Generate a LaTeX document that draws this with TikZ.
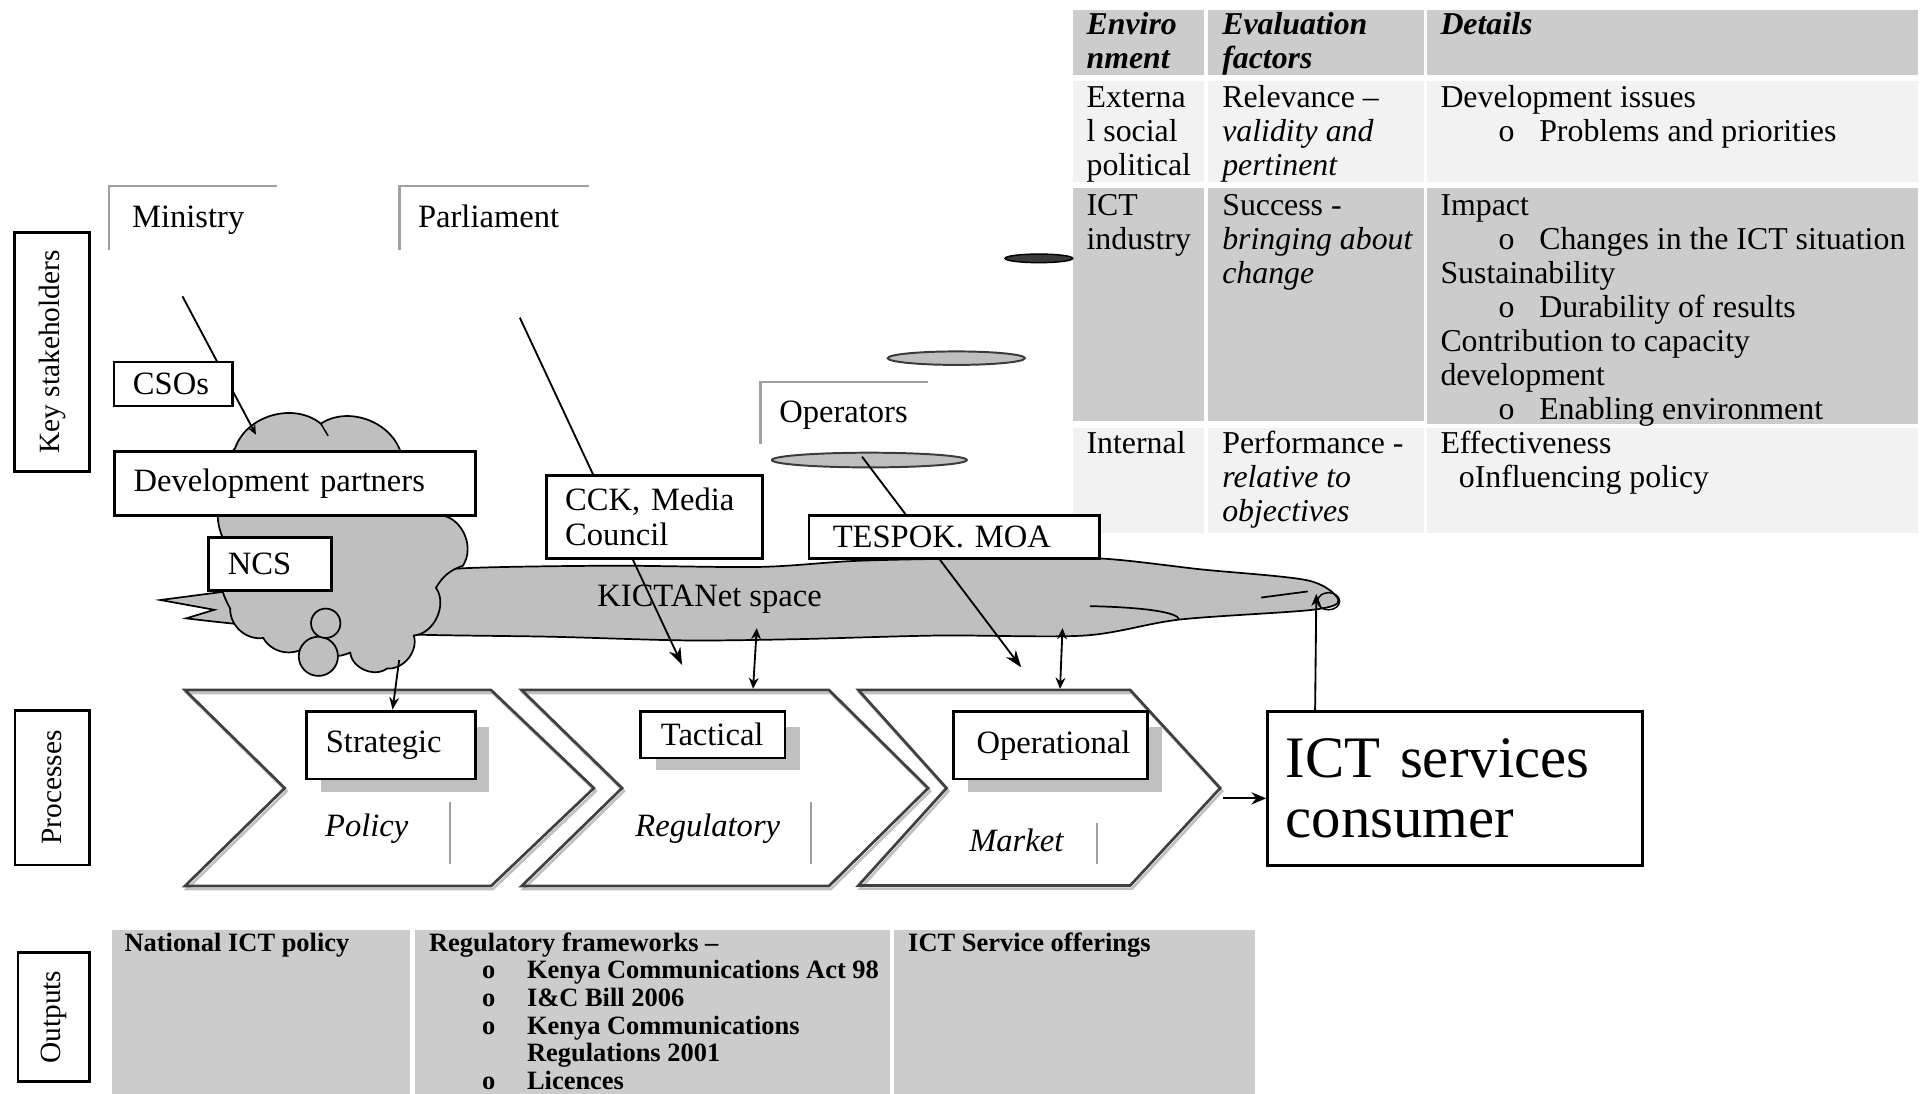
\documentclass[tikz,border=0pt]{standalone}
\usepackage{fontspec}
\setmainfont{Liberation Serif}
\usetikzlibrary{arrows.meta,shapes.geometric}
\definecolor{cellgray}{HTML}{CCCCCC}
\definecolor{celllight}{HTML}{F2F2F2}
\definecolor{cloudgray}{HTML}{BFBFBF}
\definecolor{brkgray}{HTML}{A0A0A0}
\definecolor{chevline}{HTML}{3F3F3F}
\definecolor{shgray}{HTML}{C0C0C0}
\definecolor{dashgray}{HTML}{3A3A3A}
\newcommand\tabfont{\fontsize{13}{13.9}\selectfont}
\newcommand\outfont{\fontsize{10.8}{11.3}\selectfont\bfseries}
\newcommand\nodefont{\fontsize{13.3}{14.3}\selectfont}
\newcommand\labfont{\fontsize{12}{14}\selectfont}
\newcommand\bigfont{\fontsize{24}{24.5}\selectfont}
\newcommand\tabbul{\hspace*{23.75pt}\makebox[16.6pt][l]{o}}
\newcommand\outbul{\hspace*{21.65pt}\makebox[18.35pt][l]{o}}
\begin{document}
\begin{tikzpicture}[x=0.5pt,y=-0.5pt,
  bx/.style={draw=black, line width=1.1pt, fill=white, inner ysep=0pt, align=left, font=\nodefont, anchor=north west},
  vlabel/.style={draw=black, line width=1.1pt, fill=white, inner sep=0pt, rotate=90, font=\labfont, align=center},
  brk/.style={draw=brkgray, line width=1.1pt},
  conn/.style={draw=black, line width=0.75pt},
  cloudsty/.style={fill=cloudgray, draw=black, line width=0.7pt},
  chevout/.style={draw=chevline, line width=1.1pt, line join=miter},
  chevsh/.style={draw=shgray, line width=1.1pt, line join=miter},
  tcell/.style={anchor=north west, inner sep=0pt, align=left, font=\tabfont},
  lbl/.style={anchor=base west, inner sep=0pt, font=\nodefont},
  ital/.style={anchor=base, inner sep=0pt, font=\nodefont\itshape},
  grayline/.style={draw=brkgray, line width=0.8pt},
  bigarr/.style={-{Stealth[length=7pt,width=5pt]}},
  smarr/.style={-{Stealth[length=5pt,width=4pt]}},
  dblarr/.style={{Stealth[length=4.5pt,width=4pt]}-{Stealth[length=4.5pt,width=4pt]}}
]
\useasboundingbox (0,0) rectangle (1568,893);
\clip (0,0) rectangle (1568,893);

% ---------- evaluation table ----------
\fill[cellgray] (876,8.4) rectangle (983,61);
\fill[cellgray] (986.6,8.4) rectangle (1163,61);
\fill[cellgray] (1165.5,8.4) rectangle (1566,61);
\fill[celllight] (876,66.2) rectangle (983,148.4);
\fill[celllight] (986.6,66.2) rectangle (1163,148.4);
\fill[celllight] (1165.5,66.2) rectangle (1566,148.4);
\fill[cellgray] (876,153.5) rectangle (983,343.6);
\fill[cellgray] (986.6,153.5) rectangle (1163,343.6);
\fill[cellgray] (1165.5,153.5) rectangle (1566,346.4);
\fill[celllight] (876,349.2) rectangle (983,435);
\fill[celllight] (986.6,349.2) rectangle (1163,435);
\fill[celllight] (1165.5,349.2) rectangle (1566,435);

\node[tcell, font=\tabfont\bfseries\itshape] (h1) at (887,8.5) {\strut Enviro\\nment};
\node[tcell, font=\tabfont\bfseries\itshape] (h2) at (997.8,8.5) {\strut Evaluation\\factors};
\node[tcell, font=\tabfont\bfseries\itshape] (h3) at (1176,8.5) {\strut Details};

\node[tcell] (r2a) at (887,68.2) {\strut Externa\\l social\\political};
\node[tcell] (r2b) at (997.8,68.2) {\strut Relevance –\\\textit{validity and}\\\textit{pertinent}};
\node[tcell] (r2c) at (1176,68.2) {\strut Development issues\\\tabbul Problems and priorities};

\node[tcell] (r3a) at (887,156.3) {\strut ICT\\industry};
\node[tcell] (r3b) at (997.8,156.3) {\strut Success -\\\textit{bringing about}\\\textit{change}};
\node[tcell] (r3c) at (1176,156.3) {\strut Impact\\\tabbul Changes in the ICT situation\\Sustainability\\\tabbul Durability of results\\Contribution to capacity\\development\\\tabbul Enabling environment};

\node[tcell] (r4a) at (887,350.3) {\strut Internal};
\node[tcell] (r4b) at (997.8,350.3) {\strut Performance -\\\textit{relative to}\\\textit{objectives}};
\node[tcell] (r4c) at (1176,350.3) {\strut Effectiveness\\\hspace*{7.5pt}oInfluencing policy};

% ---------- stakeholder brackets ----------
\draw[brk] (89,204) -- (89,152) -- (226,152);
\node[lbl] (ministry) at (107.5,186) {Ministry};
\draw[brk] (326,204) -- (326,152) -- (481,152);
\node[lbl] (parliament) at (341,186) {Parliament};
\draw[brk] (621,363) -- (621,312) -- (758,312);
\node[lbl] (operators) at (636,345) {Operators};

% ---------- flat ellipses ----------
\node[ellipse, draw=black, fill=dashgray, line width=0.6pt, minimum width=27.6pt, minimum height=3.5pt, inner sep=0pt] (ell1) at (848.4,211) {};
\node[ellipse, draw=dashgray, fill=cloudgray, line width=0.8pt, minimum width=56pt, minimum height=5.5pt, inner sep=0pt] (ell2) at (781,292.5) {};
\node[ellipse, draw=dashgray, fill=cloudgray, line width=0.8pt, minimum width=79.6pt, minimum height=6pt, inner sep=0pt] (ell3) at (710,375.7) {};

% ---------- KICTANet cloud ----------
\path[cloudsty] (131,490) -- plot[smooth, tension=0.5] coordinates {(200,481) (300,471) (380,464) (500,462) (620,463) (700,458) (800,456) (897,456) (981,465) (1068,474) (1093,490) (1072,498) (963,506) (886,519) (767,519) (650,522) (560,523) (450,520) (330,518) (220,512) (152,505)} -- (175,498) -- cycle;
\draw[black, line width=0.7pt] (890,495) .. controls (935,496) and (962,500) .. (963,506);
\draw[black, line width=0.7pt] (1030,488) -- (1068,483);
\draw[black, line width=0.6pt] (1085,491) ellipse [x radius=4.5pt, y radius=3.5pt];
\path[cloudsty] (188,497) to[bend left=25] (184,444) to[bend left=15] (178,412) to[bend left=25] (192,366)
  to[bend left=55] (262,346) to[bend left=55] (328,372) to[bend left=30] (362,421) to[bend left=55] (378,462)
  to[bend right=20] (356,480) to[bend left=60] (338,519) to[bend left=55] (316,546) to[bend left=60] (286,533)
  to[bend left=30] (250,528) to[bend left=50] (215,521) to[bend left=50] (188,497) -- cycle;
\draw[black, line width=0.6pt] (262,346) -- (268,356);
\draw[cloudsty] (260,536) circle [radius=8pt];
\draw[cloudsty] (266,509) circle [radius=6pt];
\node[font=\nodefont, inner sep=0pt, anchor=base] (kictanet) at (579.5,495) {KICTANet space};

% ---------- stakeholder connectors ----------
\coordinate (minA) at (149,242);
\coordinate (minB) at (209,355);
\coordinate (parA) at (424.5,259.4);
\coordinate (parB) at (557,543);
\coordinate (opA) at (704,373);
\coordinate (opB) at (834,545);
\draw[conn, -{Stealth[length=4pt,width=3.5pt]}] (minA) -- (minB);
\draw[conn, bigarr] (parA) -- (parB);
\draw[conn, bigarr] (opA) -- (opB);

% ---------- stakeholder boxes ----------
\node[bx, minimum width=48.5pt, minimum height=18pt, text width=33pt, inner xsep=7.75pt] (csos) at (92,294.5) {CSOs};
\node[bx, minimum width=147.2pt, minimum height=26.25pt, text width=131.7pt, inner xsep=7.75pt] (devp) at (92.6,367.5) {Development partners};
\node[bx, minimum width=50.25pt, minimum height=21.8pt, text width=34.25pt, inner xsep=8pt] (ncs) at (169,437.7) {NCS};
\node[bx, minimum width=88.25pt, minimum height=34pt, text width=72.75pt, inner xsep=7.75pt] (cck) at (445,387) {CCK, Media\\Council};
\node[bx, minimum width=118.75pt, minimum height=17.6pt, text width=99.25pt, inner xsep=9.75pt] (tespok) at (659.5,419.8) {TESPOK. MOA};

% ---------- process chevrons ----------
\fill[white] (151,563.5) -- (401,563.5) -- (485,643.6) -- (401,723.6) -- (151,723.6) -- (232.5,643.6) -- cycle;
\fill[white] (426,563.5) -- (677,563.5) -- (758,643.6) -- (677,723.6) -- (426,723.6) -- (508,643.6) -- cycle;
\fill[white] (701,563.5) -- (923,563.5) -- (996.5,643.6) -- (923,723.2) -- (701,723.2) -- (773,643.6) -- cycle;
\begin{scope}[shift={(1.5,2.5)}]
\draw[chevsh] (151,563.5) -- (401,563.5) -- (485,643.6) -- (401,723.6) -- (151,723.6) -- (232.5,643.6) -- cycle;
\draw[chevsh] (426,563.5) -- (677,563.5) -- (758,643.6) -- (677,723.6) -- (426,723.6) -- (508,643.6) -- cycle;
\draw[chevsh] (701,563.5) -- (923,563.5) -- (996.5,643.6) -- (923,723.2) -- (701,723.2) -- (773,643.6) -- cycle;
\end{scope}
\draw[chevout] (151,563.5) -- (401,563.5) -- (485,643.6) -- (401,723.6) -- (151,723.6) -- (232.5,643.6) -- cycle;
\draw[chevout] (426,563.5) -- (677,563.5) -- (758,643.6) -- (677,723.6) -- (426,723.6) -- (508,643.6) -- cycle;
\draw[chevout] (701,563.5) -- (923,563.5) -- (996.5,643.6) -- (923,723.2) -- (701,723.2) -- (773,643.6) -- cycle;

\fill[shgray] (262,593.5) rectangle (399,646.5);
\fill[shgray] (536,594) rectangle (653,629);
\fill[shgray] (790.6,593.5) rectangle (949,646.5);
\node[bx, minimum width=69pt, minimum height=27.5pt, text width=53pt, inner xsep=8pt] (strat) at (249,580) {Strategic};
\node[bx, minimum width=59pt, minimum height=19pt, text width=42.4pt, inner xsep=8.3pt] (tact) at (522,580) {Tactical};
\node[bx, minimum width=79.25pt, minimum height=27.5pt, text width=60.25pt, inner xsep=9.5pt] (oper) at (777.5,580) {Operational};

\node[ital] (policy) at (299.5,683) {Policy};
\node[ital] (regul) at (578,683) {Regulatory};
\node[ital] (market) at (830,695.5) {Market};
\draw[grayline] (367.5,655) -- (367.5,706);
\draw[grayline] (662,655) -- (662,706);
\draw[grayline] (896,672) -- (896,706);

% ---------- cloud <-> process arrows ----------
\coordinate (c1) at (326,539);
\coordinate (s1) at (320.6,579.5);
\coordinate (d1a) at (618,513);
\coordinate (d1b) at (615,562.5);
\coordinate (d2a) at (867.7,513);
\coordinate (d2b) at (865.7,562.5);
\draw[conn, smarr] (c1) -- (s1);
\draw[conn, dblarr] (d1a) -- (d1b);
\draw[conn, dblarr] (d2a) -- (d2b);

% ---------- consumer ----------
\node[bx, minimum width=153pt, minimum height=63pt, text width=138pt, inner xsep=7.5pt, font=\bigfont] (ict) at (1034,580) {ICT services\\consumer};
\coordinate (ictT) at (1074,580);
\coordinate (cloudR) at (1075,485);
\draw[conn, smarr] (ictT) -- (cloudR);
\coordinate (tip3) at (998.5,652);
\draw[conn, -{Stealth[length=6pt,width=5pt]}] (tip3) -- (ict.west |- tip3);

% ---------- left labels ----------
\node[vlabel, minimum width=97.5pt, minimum height=30.5pt] (ks) at (42.5,287.5) {Key stakeholders};
\node[vlabel, minimum width=63.2pt, minimum height=30.6pt] (proc) at (42.75,643.2) {Processes};
\node[vlabel, minimum width=52.7pt, minimum height=29.3pt] (outp) at (44,830.7) {Outputs};

% ---------- outputs table ----------
\fill[cellgray] (91.3,759.5) rectangle (335,895);
\fill[cellgray] (338.7,759.5) rectangle (726.6,895);
\fill[cellgray] (730,759.5) rectangle (1024.7,895);
\node[tcell, font=\outfont] (o1) at (101.3,760.6) {\strut National ICT policy};
\node[tcell, font=\outfont] (o2) at (350,760.6) {\strut Regulatory frameworks –\\\outbul Kenya Communications Act 98\\\outbul I\&C Bill 2006\\\outbul Kenya Communications\\\hspace*{40pt}Regulations 2001\\\outbul Licences};
\node[tcell, font=\outfont] (o3) at (741.3,760.6) {\strut ICT Service offerings};
\end{tikzpicture}
\end{document}
